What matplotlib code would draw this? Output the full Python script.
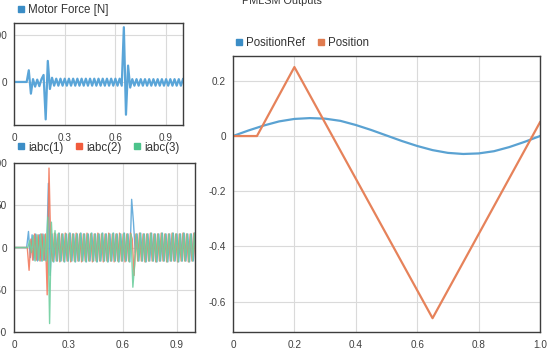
import numpy as np
import matplotlib
matplotlib.use('Agg')
import matplotlib.pyplot as plt
from matplotlib.lines import Line2D
from matplotlib.ticker import FuncFormatter

plt.rcParams['font.family'] = ['Liberation Sans', 'DejaVu Sans']

# motor force [N], one sample every 0.0125 s
force_t = np.linspace(0, 1, 81)
force = [0, 0, 0, 0, 0, 0, 0, 25, -25, 6,
         -10, 5, -9, 6, 15, -80, 45, -15, 9, -8,
         7, -8, 7, -8, 7, -8, 7, -8, 7, -8,
         7, -8, 7, -8, 7, -8, 7, -8, 7, -8,
         7, -8, 7, -8, 7, -8, 7, -8, 7, -8,
         7, -8, 117, -70, 35, -12, 6, -8, 6, -8,
         6, -8, 6, -8, 6, -8, 6, -8, 6, -8,
         6, -8, 6, -8, 6, -8, 6, -8, 6, -8,
         6]

# phase currents, one sample every 0.01 s per phase (phases sampled 1/3 step apart)
cur_t = np.linspace(0, 1, 101)
iabc1 = [0, 0, 0, 0, 0, 0, 0, 0, 19, -12,
         15, -15, 16, -16, 15, -16, 16, -15, -12, 76,
         -33, 16, -17, 16, -16, 17, -16, 16, -17, 16,
         -16, 17, -16, 16, -17, 16, -16, 17, -16, 16,
         -17, 16, -16, 17, -16, 16, -17, 16, -16, 17,
         -16, 16, -17, 16, -16, 17, -16, 16, -17, 16,
         -16, 17, -16, 16, -17, 57, 30, -6, 16, -16,
         17, -16, 16, -17, 16, -16, 17, -16, 16, -17,
         16, -16, 17, -16, 16, -17, 16, -16, 17, -16,
         16, -17, 16, -16, 17, -16, 16, -17, 16, -16,
         17]
iabc2 = [0, 0, 0, 0, 0, 0, 0, 0, -27, 10,
         -15, 16, -15, 15, -16, 16, -15, 16, -56, 94,
         0, -16, 17, -16, 16, -17, 16, -16, 17, -16,
         16, -17, 16, -16, 17, -16, 16, -17, 16, -16,
         17, -16, 16, -17, 16, -16, 17, -16, 16, -17,
         16, -16, 17, -16, 16, -17, 16, -16, 17, -16,
         16, -17, 16, -16, 17, 10, -33, 16, -16, 17,
         -16, 16, -17, 16, -16, 17, -16, 16, -17, 16,
         -16, 17, -16, 16, -17, 16, -16, 17, -16, 16,
         -17, 16, -16, 17, -16, 16, -17, 16, -16, 17,
         -16]
iabc3 = [0, 0, 0, 0, 0, 0, 0, 0, 8, -6,
         14, -16, 15, -15, 16, -16, 15, -16, 36, -90,
         30, -17, 20, -16, 17, -16, 16, -17, 16, -16,
         17, -16, 16, -17, 16, -16, 17, -16, 16, -17,
         16, -16, 17, -16, 16, -17, 16, -16, 17, -16,
         16, -17, 16, -16, 17, -16, 16, -17, 16, -16,
         17, -16, 16, -17, 16, -47, -20, 16, -16, 17,
         -16, 16, -17, 16, -16, 17, -16, 16, -17, 16,
         -16, 17, -16, 16, -17, 16, -16, 17, -16, 16,
         -17, 16, -16, 17, -16, 16, -17, 16, -16, 17,
         -16]

# position
pos_t = [0, 0.078, 0.2, 0.65, 1.0]
pos = [0, 0, 0.25, -0.66, 0.05]
ref_t = np.linspace(0, 1, 21)
pos_ref = [0, 0.020, 0.038, 0.053, 0.062, 0.065, 0.063, 0.055, 0.040, 0.022,
           0.002, -0.018, -0.036, -0.051, -0.061, -0.065, -0.063, -0.055, -0.040, -0.021,
           0]

BLUE = '#3b8dc6'
RED = '#f15b3c'
GREEN = '#4cc38b'
ORANGE = '#e6825a'

W, H = 556, 361
fig = plt.figure(figsize=(W / 100, H / 100), dpi=100)


def box(l, t, r, b):
    return [l / W, 1 - b / H, (r - l) / W, (b - t) / H]


def style(ax):
    ax.grid(True, color='#dadada', lw=0.8)
    ax.set_axisbelow(True)
    for s in ax.spines.values():
        s.set_color('#3d3d3d')
        s.set_linewidth(1.0)
    ax.tick_params(length=0, labelsize=7.2, labelcolor='#404040')
    ax.tick_params(axis='x', pad=5.5)
    ax.tick_params(axis='y', pad=5.2)


def legend(ax, names, colors, x, y):
    handles = [Line2D([], [], marker='s', ls='none', ms=5, color=c) for c in colors]
    ax.legend(handles, names, loc='center left', bbox_to_anchor=(x / W, 1 - y / H),
              bbox_transform=fig.transFigure, ncol=len(names), frameon=False,
              borderpad=0, borderaxespad=0, handlelength=0.8, handletextpad=0.25,
              columnspacing=0.95, fontsize=8.3, labelcolor='#333333')


gfmt = FuncFormatter(lambda v, _: f'{v:g}')
pfmt = FuncFormatter(lambda v, _: '0' if abs(v) < 1e-9 else f'{v:.1f}')

# motor force
ax1 = fig.add_axes(box(14, 23, 183, 125))
ax1.plot(force_t, force, color='#5aa5d8', lw=1.6)
ax1.set_xlim(0, 1)
ax1.set_ylim(-92, 126)
ax1.set_xticks([0, 0.3, 0.6, 0.9])
ax1.set_yticks([0, 100])
ax1.xaxis.set_major_formatter(gfmt)
ax1.yaxis.set_major_formatter(gfmt)
style(ax1)
legend(ax1, ['Motor Force [N]'], [BLUE], 15.9, 10.5)

# currents
ax2 = fig.add_axes(box(14, 163, 195, 332))
step = cur_t[1] - cur_t[0]
ax2.plot(cur_t, iabc1, color='#5aa5d8', lw=1.0, alpha=0.9)
ax2.plot(cur_t + step / 3, iabc2, color='#f27a5e', lw=1.0, alpha=0.9)
ax2.plot(cur_t + 2 * step / 3, iabc3, color='#6fcf9f', lw=1.0, alpha=0.9)
ax2.set_xlim(0, 1)
ax2.set_ylim(-100, 100)
ax2.set_xticks([0, 0.3, 0.6, 0.9])
ax2.set_yticks([-100, -50, 0, 50, 100])
ax2.xaxis.set_major_formatter(gfmt)
ax2.yaxis.set_major_formatter(gfmt)
style(ax2)
legend(ax2, ['iabc(1)', 'iabc(2)', 'iabc(3)'], [BLUE, RED, GREEN], 15.9, 147.5)

# position
ax3 = fig.add_axes(box(233, 56, 540, 332))
ax3.plot(ref_t, pos_ref, color='#5aa2d2', lw=1.6)
ax3.plot(pos_t, pos, color=ORANGE, lw=1.6)
ax3.set_xlim(0, 1)
ax3.set_ylim(-0.71, 0.29)
ax3.set_xticks([0, 0.2, 0.4, 0.6, 0.8, 1.0])
ax3.set_yticks([-0.6, -0.4, -0.2, 0, 0.2])
ax3.xaxis.set_major_formatter(pfmt)
ax3.yaxis.set_major_formatter(pfmt)
style(ax3)
legend(ax3, ['PositionRef', 'Position'], [BLUE, '#e07b4f'], 233.9, 43)

fig.text(281.7 / W, 1 - 3.5 / H, 'PMLSM Outputs', ha='center', va='baseline',
         fontsize=7.85, color='#333333')

fig.savefig('out.png', dpi=100)
